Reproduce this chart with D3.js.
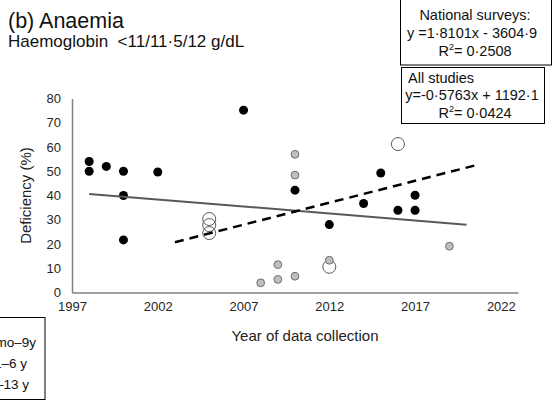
<!DOCTYPE html>
<html>
<head>
<meta charset="utf-8">
<script src="https://cdn.jsdelivr.net/npm/d3@7"></script>
<style>
  body { margin: 0; background: #fff; }
  svg { font-family: "Liberation Sans", Arial, sans-serif; }
  .axis path { stroke: #808080; stroke-width: 1.5; }
  .axis text { font-size: 13px; fill: #262626; }
</style>
</head>
<body>
<svg id="chart" width="552" height="402"></svg>
<script>
// years on x axis
const xTicks = [1997, 2002, 2007, 2012, 2017, 2022];
const yTicks = [0, 10, 20, 30, 40, 50, 60, 70, 80];

// black points
const blackPts = [
  [1998, 54], [1998, 50], [1999, 52], [2000, 50], [2000, 40], [2000, 21.7],
  [2002, 49.7], [2007, 75.2], [2010, 42.2], [2012, 28], [2014, 36.7],
  [2015, 49.3], [2016, 33.9], [2017, 40.1], [2017, 33.9]
];
// grey points
const greyPts = [
  [2008, 4], [2009, 11.5], [2009, 5.4], [2010, 57], [2010, 48.4],
  [2010, 6.7], [2012, 13.3], [2019, 19.1]
];
// hollow circles
const hollowPts = [
  [2005, 30.3], [2005, 27.8], [2005, 24.5], [2012, 10.6], [2016, 61.2]
];

// trend lines: slope, intercept, year range
const allStudies = { m: -0.5763, b: 1192.1, from: 1998, to: 2020 };
const national   = { m: 1.8101, b: -3604.9, from: 2003, to: 2020.5 };

const legendLabels = ["6 mo\u20139y", "1\u20136 y", "6\u201313 y"];

const svg = d3.select("#chart");

const x = d3.scaleLinear().domain([1997, 2023]).range([72, 518]);
const y = d3.scaleLinear().domain([0, 80]).range([292.5, 98.5]);

// axes
svg.append("g")
  .attr("class", "axis")
  .attr("transform", "translate(0," + y(0) + ")")
  .call(d3.axisBottom(x).tickValues(xTicks).tickSize(0).tickPadding(9).tickFormat(d3.format("d")));

svg.append("g")
  .attr("class", "axis")
  .attr("transform", "translate(" + x(1997) + ",0)")
  .call(d3.axisLeft(y).tickValues(yTicks).tickSize(0).tickPadding(11));

// axis titles
svg.append("text")
  .attr("text-anchor", "middle")
  .attr("transform", "translate(31," + y(40) + ")rotate(-90)")
  .attr("font-size", 15)
  .attr("fill", "#222")
  .text("Deficiency (%)");

svg.append("text")
  .attr("text-anchor", "middle")
  .attr("x", 305)
  .attr("y", 341)
  .attr("font-size", 15)
  .attr("fill", "#222")
  .text("Year of data collection");

// points
const pts = svg.append("g");

pts.selectAll(".hollow").data(hollowPts).enter().append("circle")
  .attr("cx", d => x(d[0]))
  .attr("cy", d => y(d[1]))
  .attr("r", 6.5)
  .attr("fill", "none")
  .attr("stroke", "#595959")
  .attr("stroke-width", 1);

pts.selectAll(".grey").data(greyPts).enter().append("circle")
  .attr("cx", d => x(d[0]))
  .attr("cy", d => y(d[1]))
  .attr("r", 3.9)
  .attr("fill", "#bfbfbf")
  .attr("stroke", "#6e6e6e")
  .attr("stroke-width", 1);

pts.selectAll(".black").data(blackPts).enter().append("circle")
  .attr("cx", d => x(d[0]))
  .attr("cy", d => y(d[1]))
  .attr("r", 4.5)
  .attr("fill", "#000");

// trend lines
const trend = (t) => [t.from, t.to].map(yr => [yr, t.m * yr + t.b]);
const line = d3.line().x(d => x(d[0])).y(d => y(d[1]));

svg.append("path")
  .datum(trend(allStudies))
  .attr("d", line)
  .attr("stroke", "#595959")
  .attr("stroke-width", 2)
  .attr("fill", "none");

svg.append("path")
  .datum(trend(national))
  .attr("d", line)
  .attr("stroke", "#000")
  .attr("stroke-width", 2.5)
  .attr("stroke-dasharray", "9,6")
  .attr("fill", "none");

// titles
svg.append("text").attr("x", 8).attr("y", 28)
  .attr("font-size", 21.5).attr("fill", "#111").text("(b) Anaemia");
svg.append("text").attr("x", 8).attr("y", 47)
  .attr("font-size", 17).attr("fill", "#111")
  .style("white-space", "pre")
  .text("Haemoglobin  <11/11\u00b75/12 g/dL");

// equation boxes
function eqBox(bx, by, bw, bh, lines) {
  const g = svg.append("g");
  g.append("rect").attr("x", bx).attr("y", by).attr("width", bw).attr("height", bh)
    .attr("fill", "#fff").attr("stroke", "#000").attr("stroke-width", 1);
  lines.forEach(l => {
    const t = g.append("text").attr("x", l.x).attr("y", l.y)
      .attr("font-size", 14.5).attr("fill", "#111")
      .attr("text-anchor", l.anchor || "middle");
    if (l.r2) {
      t.append("tspan").text("R");
      t.append("tspan").attr("dy", -6).attr("font-size", 9).text("2");
      t.append("tspan").attr("dy", 6).text("= " + l.r2);
    } else {
      t.text(l.text);
    }
  });
}

eqBox(400.5, -1, 151, 66, [
  { x: 475, y: 20, text: "National surveys:" },
  { x: 472, y: 38, text: "y =1\u00b78101x - 3604\u00b79" },
  { x: 475, y: 56, r2: "0\u00b72508" }
]);

eqBox(401.5, 67.5, 143, 56, [
  { x: 408, y: 83, text: "All studies", anchor: "start" },
  { x: 472, y: 100, text: "y=-0\u00b75763x + 1192\u00b71" },
  { x: 475, y: 118, r2: "0\u00b70424" }
]);

// legend (mostly cut off at left edge, as in the source figure)
const lg = svg.append("g");
lg.append("rect").attr("x", -60).attr("y", 317.5).attr("width", 105).attr("height", 82)
  .attr("fill", "#fff").attr("stroke", "#000").attr("stroke-width", 1);
const legY = [342, 363, 384];
const legEnd = [36, 27, 29];
legendLabels.forEach((lab, i) => {
  lg.append("text").attr("x", legEnd[i]).attr("y", legY[i] + 5)
    .attr("text-anchor", "end").attr("font-size", 13.5).attr("fill", "#111").text(lab);
});
</script>
</body>
</html>
